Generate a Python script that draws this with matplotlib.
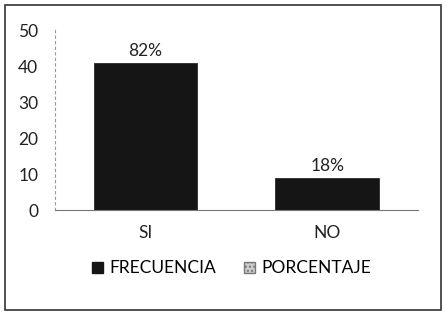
import matplotlib.pyplot as plt
from matplotlib.patches import Patch, Rectangle

categorias = ['SI', 'NO']
frecuencia = [41, 9]
porcentaje = ['82%', '18%']

plt.rcParams['font.family'] = ['Lato', 'DejaVu Sans']

fig = plt.figure(figsize=(4.46, 3.14), dpi=100)
ax = fig.add_axes([0.123, 0.331, 0.814, 0.573])

x = list(range(len(categorias)))
bars = ax.bar(x, frecuencia, width=0.57, color='#151515', edgecolor='#2a2a2a', linewidth=0.6)
for b, lab in zip(bars, porcentaje):
    ax.text(b.get_x() + b.get_width() / 2, b.get_height() + 1.0, lab,
            ha='center', va='bottom', fontsize=12.5, color='#222222')

ax.set_xlim(-0.5, 1.5)
ax.set_ylim(0, 50)
ax.set_yticks(range(0, 51, 10))
ax.set_xticks(x)
ax.set_xticklabels(categorias)
ax.tick_params(axis='both', length=0, labelsize=12.5, colors='#222222')
ax.tick_params(axis='y', pad=12)
ax.tick_params(axis='x', pad=11)
for s in ['top', 'right']:
    ax.spines[s].set_visible(False)
ax.spines['left'].set_color('#999999')
ax.spines['left'].set_linestyle((0, (2, 3)))
ax.spines['left'].set_linewidth(0.8)
ax.spines['bottom'].set_color('#777777')
ax.spines['bottom'].set_linewidth(0.8)

handles = [Patch(facecolor='#151515', edgecolor='#151515', label='FRECUENCIA'),
           Patch(facecolor='#cccccc', edgecolor='#777777', hatch='....', label='PORCENTAJE')]
fig.legend(handles=handles, loc='center', bbox_to_anchor=(0.52, 0.145), ncol=2,
           frameon=False, fontsize=12.5, handlelength=0.6, handleheight=0.6,
           handletextpad=0.4, columnspacing=1.6)

fig.patches.append(Rectangle((0.011, 0.013), 0.978, 0.972, transform=fig.transFigure,
                             fill=False, edgecolor='#333333', linewidth=1.2))

fig.savefig('out.png', dpi=100)
